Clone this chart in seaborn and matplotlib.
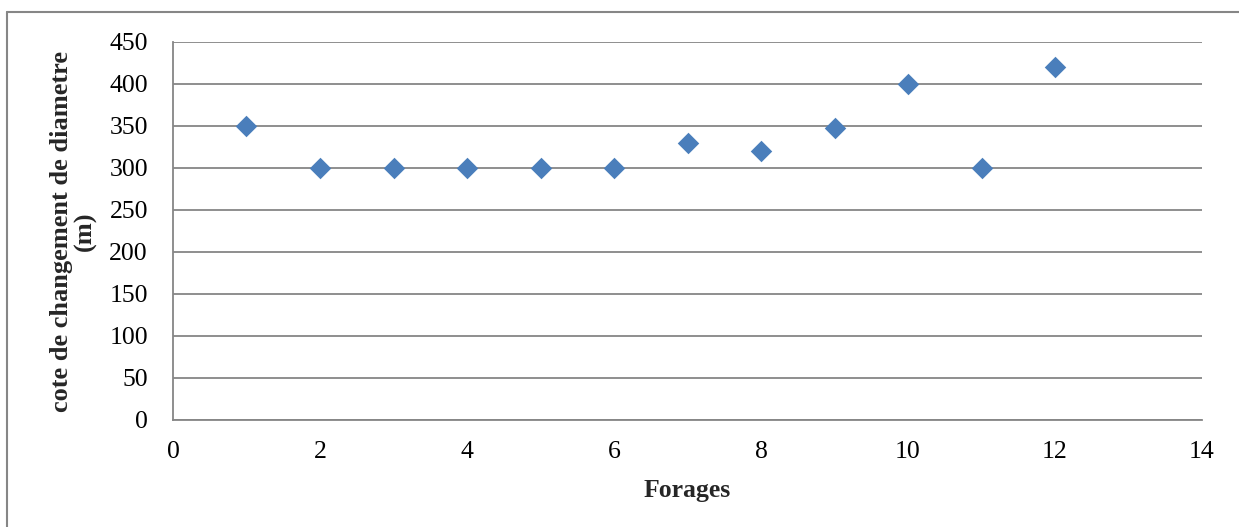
import matplotlib
matplotlib.use("Agg")
import matplotlib.pyplot as plt
import seaborn as sns
import pandas as pd
from matplotlib.lines import Line2D

forages = [1, 2, 3, 4, 5, 6, 7, 8, 9, 10, 11, 12]
cote = [350, 300, 300, 300, 300, 300, 330, 320, 348, 400, 300, 420]
x_ticks = [0, 2, 4, 6, 8, 10, 12, 14]
y_ticks = [0, 50, 100, 150, 200, 250, 300, 350, 400, 450]

sns.set_theme(style="white")
plt.rcParams['font.family'] = ['Liberation Serif', 'DejaVu Serif']

W, H = 1239, 527
fig = plt.figure(figsize=(W / 100, H / 100), dpi=100)
ax = fig.add_axes([173 / W, 1 - 420 / H, (1202 - 173) / W, (420 - 42) / H])

df = pd.DataFrame({"Forages": forages, "cote": cote})
sns.scatterplot(data=df, x="Forages", y="cote", marker="D", s=120,
                color="#4A7EBB", linewidth=0, ax=ax, zorder=3)

grey = "#868686"
ax.set_xlim(0, 14)
ax.set_ylim(0, 450)
ax.set_xticks(x_ticks)
ax.set_yticks(y_ticks)
ax.yaxis.grid(True, color=grey, linewidth=1.3)
ax.xaxis.grid(False)
ax.set_axisbelow(True)
for side in ["top", "right"]:
    ax.spines[side].set_visible(False)
for side in ["left", "bottom"]:
    ax.spines[side].set_color(grey)
    ax.spines[side].set_linewidth(1.3)
ax.tick_params(axis="both", which="major", direction="out", length=7,
               width=1.3, color=grey, labelsize=18.5, labelcolor="black")
ax.tick_params(axis="y", pad=11)
ax.tick_params(axis="x", pad=8)

ax.set_xlabel("Forages", fontsize=18.5, fontweight="bold", labelpad=12)
ax.set_ylabel("cote de changement de diametre\n(m)", fontsize=19,
              fontweight="bold", labelpad=9, linespacing=1.0)

# figure border (Excel chart area)
fig.add_artist(Line2D([7 / W, 1.0], [1 - 12 / H, 1 - 12 / H],
                      transform=fig.transFigure, color=grey, linewidth=1.5))
fig.add_artist(Line2D([7 / W, 7 / W], [1 - 12 / H, 0.0],
                      transform=fig.transFigure, color=grey, linewidth=1.5))

fig.savefig("out.png", dpi=100, facecolor="white")
